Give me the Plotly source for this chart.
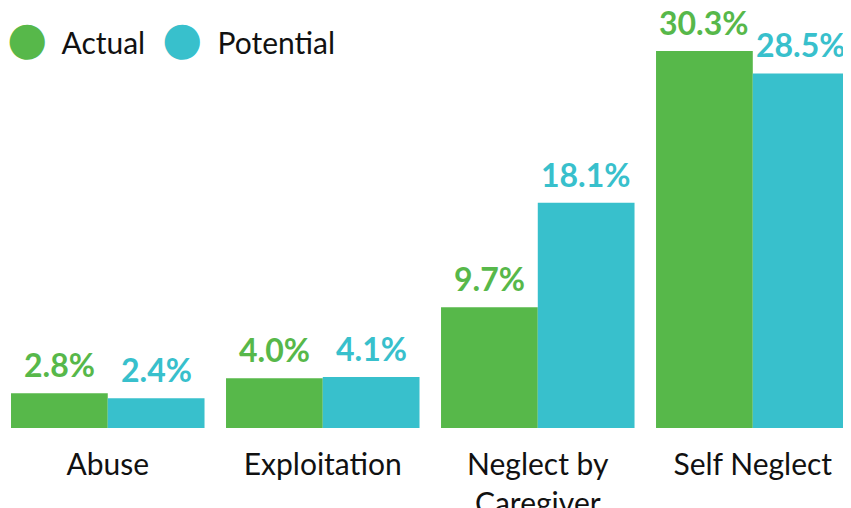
import plotly.graph_objects as go

categories = ["Abuse", "Exploitation", "Neglect by<br>Caregiver", "Self Neglect"]
actual = [2.8, 4.0, 9.7, 30.3]
potential = [2.4, 4.1, 18.1, 28.5]

GREEN = "#57b84a"
CYAN = "#38c0cc"
FONT = "Lato"

fig = go.Figure()
fig.add_trace(go.Bar(x=categories, y=actual, name="Actual", marker_color=GREEN,
                     marker_line_width=0, showlegend=False, hoverinfo="skip"))
fig.add_trace(go.Bar(x=categories, y=potential, name="Potential", marker_color=CYAN,
                     marker_line_width=0, showlegend=False, hoverinfo="skip"))

# value labels above each bar
annotations = []
for i, (a, p) in enumerate(zip(actual, potential)):
    annotations.append(dict(x=i - 0.225, y=a, xref="x", yref="y", text=f"{a:.1f}%",
                            showarrow=False, yanchor="bottom", yshift=7,
                            font=dict(family=FONT, size=32, color=GREEN, weight="bold")))
    annotations.append(dict(x=i + 0.225, y=p, xref="x", yref="y", text=f"{p:.1f}%",
                            showarrow=False, yanchor="bottom", yshift=7,
                            font=dict(family=FONT, size=32, color=CYAN, weight="bold")))

# legend drawn as text with round bullets
legend_items = [("Actual", GREEN, -3), ("Potential", CYAN, 152)]
for name, color, xpx in legend_items:
    annotations.append(dict(x=xpx / 851, y=0.928, xref="paper", yref="paper",
                            xanchor="left", yanchor="middle", showarrow=False,
                            text=f"<span style='color:{color};font-size:46px;font-family:DejaVu Sans'>●</span>"
                                 f"<span style='font-size:30px'>  {name}</span>",
                            font=dict(family=FONT, size=30, color="#111111")))

fig.update_layout(
    width=851, height=508,
    margin=dict(l=0, r=0, t=0, b=88),
    paper_bgcolor="white", plot_bgcolor="white",
    barmode="group", bargap=0.1, bargroupgap=0,
    annotations=annotations,
    xaxis=dict(range=[-0.464, 3.494], showgrid=False, showline=False, zeroline=False,
               automargin=False,
               ticks="outside", ticklen=10, tickcolor="rgba(0,0,0,0)",
               tickfont=dict(family=FONT, size=30, color="#111111")),
    yaxis=dict(range=[0, 33.76], visible=False, automargin=False),
)

fig.write_html("out.html")
